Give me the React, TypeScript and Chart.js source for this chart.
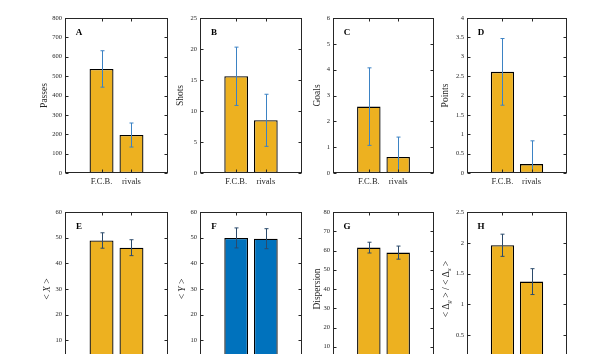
import { useEffect, useRef } from 'react';
import { Chart, registerables } from 'chart.js';

Chart.register(...registerables);

// ---------- data ----------
const categories = ['F.C.B.', 'rivals'];
const barPositions = [1, 2];

const passes = [537, 196];
const passesErr = [94, 62];
const shots = [15.6, 8.5];
const shotsErr = [4.7, 4.2];
const goals = [2.57, 0.62];
const goalsErr = [1.5, 0.77];
const points = [2.61, 0.23];
const pointsErr = [0.86, 0.6];
const meanX = [48.9, 46.1];
const meanXErr = [3.0, 3.1];
const meanY = [49.9, 49.6];
const meanYErr = [3.9, 3.9];
const dispersion = [61.5, 58.9];
const dispersionErr = [2.8, 3.4];
const deltaRatio = [1.96, 1.37];
const deltaRatioErr = [0.18, 0.21];

const panelLetters = ['A', 'B', 'C', 'D', 'E', 'F', 'G', 'H'];
const yLabels = ['Passes', 'Shots', 'Goals', 'Points', '< X >', '< Y >', 'Dispersion', '< Δ_g > / < Δ_s >'];
const yMax = [800, 25, 6, 4, 60, 60, 80, 2.5];
const yStep = [100, 5, 1, 0.5, 10, 10, 10, 0.5];
const seriesValues = [passes, shots, goals, points, meanX, meanY, dispersion, deltaRatio];
const seriesErrors = [passesErr, shotsErr, goalsErr, pointsErr, meanXErr, meanYErr, dispersionErr, deltaRatioErr];

// ---------- layout / style ----------
const W = 597;
const CH = 400;
const colLeft = [65, 200, 333, 467];
const colRight = [168, 302, 434, 567];
const rowTop = [18, 212];
const rowBottom = [173, 366];
const labelOffset = [21, 20, 16, 22, 18, 18, 16, 21];
const Y_AXIS_W = 40;
const X_AXIS_H = 20;
const ORANGE = '#EDB120';
const BLUE = '#0072BD';
const AXIS = '#262626';
const FONT = '"Liberation Serif", "Times New Roman", serif';

function drawRotatedLabel(ctx: CanvasRenderingContext2D, text: string, cx: number, cy: number, size: number) {
  const math = text.startsWith('<');
  const segs: { t: string; sub: boolean; w?: number }[] = [];
  for (let i = 0; i < text.length; i++) {
    const c = text[i];
    if (c === '_') {
      segs.push({ t: text[i + 1], sub: true });
      i++;
      continue;
    }
    segs.push({ t: c, sub: false });
  }
  const fontFor = (s: { t: string; sub: boolean }) => {
    const sz = s.sub ? size * 0.7 : size;
    const it = math && /[A-Za-z]/.test(s.t) ? 'italic ' : '';
    return `${it}${sz}px ${FONT}`;
  };
  let w = 0;
  segs.forEach((s) => {
    ctx.font = fontFor(s);
    s.w = ctx.measureText(s.t).width;
    w += s.w;
  });
  ctx.save();
  ctx.translate(cx, cy);
  ctx.rotate(-Math.PI / 2);
  ctx.fillStyle = AXIS;
  ctx.textAlign = 'left';
  ctx.textBaseline = 'middle';
  let x = -w / 2;
  segs.forEach((s) => {
    ctx.font = fontFor(s);
    ctx.fillText(s.t, x, s.sub ? size * 0.3 : 0);
    x += s.w || 0;
  });
  ctx.restore();
}

const panelPlugin = {
  id: 'panelDecor',
  afterDatasetsDraw(chart: any, _args: any, opts: any) {
    const { ctx, chartArea: a, scales } = chart;
    const xs = scales.x;
    const ys = scales.y;
    // error bars
    ctx.save();
    ctx.beginPath();
    ctx.rect(a.left, a.top, a.right - a.left, a.bottom - a.top);
    ctx.clip();
    ctx.strokeStyle = opts.errColor;
    ctx.lineWidth = 1;
    (opts.values as number[]).forEach((v, i) => {
      const x = Math.round(xs.getPixelForValue(barPositions[i])) + 0.5;
      const yTop = ys.getPixelForValue(v + opts.errors[i]);
      const yBot = ys.getPixelForValue(v - opts.errors[i]);
      ctx.beginPath();
      ctx.moveTo(x, yTop);
      ctx.lineTo(x, yBot);
      ctx.moveTo(x - 2, yTop);
      ctx.lineTo(x + 2, yTop);
      ctx.moveTo(x - 2, yBot);
      ctx.lineTo(x + 2, yBot);
      ctx.stroke();
    });
    ctx.restore();

    // frame and inward ticks
    ctx.save();
    ctx.strokeStyle = AXIS;
    ctx.lineWidth = 1;
    const L = Math.round(a.left) + 0.5;
    const R = Math.round(a.right) - 0.5;
    const T = Math.round(a.top) + 0.5;
    const B = Math.round(a.bottom) - 0.5;
    ctx.strokeRect(L, T, R - L, B - T);
    ctx.beginPath();
    ys.ticks.forEach((t: any) => {
      const y = Math.round(ys.getPixelForValue(t.value)) + 0.5;
      ctx.moveTo(L, y);
      ctx.lineTo(L + 3, y);
      ctx.moveTo(R, y);
      ctx.lineTo(R - 3, y);
    });
    barPositions.forEach((p) => {
      const x = Math.round(xs.getPixelForValue(p)) + 0.5;
      ctx.moveTo(x, T);
      ctx.lineTo(x, T + 3);
      ctx.moveTo(x, B);
      ctx.lineTo(x, B - 3);
    });
    ctx.stroke();
    ctx.restore();

    // panel letter
    ctx.save();
    ctx.fillStyle = '#000';
    ctx.font = `bold 9px ${FONT}`;
    ctx.textAlign = 'center';
    ctx.textBaseline = 'middle';
    ctx.fillText(opts.letter, a.left + 14, a.top + 15);
    ctx.restore();

    // y label
    drawRotatedLabel(ctx, opts.yLabel, a.left - opts.labelOffset, (a.top + a.bottom) / 2, 9.5);
  },
};

function Panel({ index }: { index: number }) {
  const ref = useRef<HTMLCanvasElement | null>(null);
  useEffect(() => {
    if (!ref.current) return;
    const col = index % 4;
    const row = Math.floor(index / 4);
    const plotLeft = colLeft[col];
    const plotRight = colRight[col];
    const plotTop = rowTop[row];
    const plotBottom = rowBottom[row];
    const values = seriesValues[index];
    const errors = seriesErrors[index];
    const barColor = index === 5 ? BLUE : ORANGE;
    const chart = new Chart(ref.current, {
      type: 'bar',
      data: {
        datasets: [
          {
            data: values.map((v, i) => ({ x: barPositions[i], y: v })),
            backgroundColor: barColor,
            borderColor: '#000',
            borderWidth: 1.3,
            borderSkipped: false,
            barPercentage: 0.8,
            categoryPercentage: 1,
          },
        ],
      },
      options: {
        animation: false,
        responsive: false,
        devicePixelRatio: 1,
        events: [],
        layout: {
          padding: {
            left: plotLeft - Y_AXIS_W,
            right: W - plotRight,
            top: plotTop,
            bottom: CH - plotBottom - X_AXIS_H,
          },
        },
        plugins: {
          legend: { display: false },
          tooltip: { enabled: false },
          title: { display: false },
          panelDecor: {
            values,
            errors,
            errColor: row === 0 ? '#3b82c4' : '#2b4a6b',
            letter: panelLetters[index],
            yLabel: yLabels[index],
            labelOffset: labelOffset[index],
          },
        } as any,
        scales: {
          x: {
            type: 'linear',
            min: -0.22,
            max: 3.22,
            offset: false,
            grid: { display: false, drawTicks: false },
            border: { display: false },
            afterBuildTicks: (s: any) => {
              s.ticks = barPositions.map((p) => ({ value: p }));
            },
            afterFit: (s: any) => {
              s.height = X_AXIS_H;
            },
            ticks: {
              autoSkip: false,
              maxRotation: 0,
              padding: 4,
              color: AXIS,
              font: { family: FONT, size: 8.5 },
              callback: (v: any) => {
                const i = barPositions.indexOf(Number(v));
                return i >= 0 ? categories[i] : '';
              },
            },
          },
          y: {
            type: 'linear',
            min: 0,
            max: yMax[index],
            grid: { display: false, drawTicks: false },
            border: { display: false },
            afterFit: (s: any) => {
              s.width = Y_AXIS_W;
            },
            ticks: {
              stepSize: yStep[index],
              padding: 3,
              color: AXIS,
              font: { family: FONT, size: 6.5 },
              callback: (v: any) => String(Math.round(Number(v) * 1000) / 1000),
            },
          },
        },
      },
      plugins: [panelPlugin],
    });
    return () => chart.destroy();
  }, [index]);
  return (
    <canvas
      ref={ref}
      width={W}
      height={CH}
      style={{ position: 'absolute', left: 0, top: 0, width: W, height: CH }}
    />
  );
}

export default function App() {
  return (
    <div
      style={{
        position: 'fixed',
        left: 0,
        top: 0,
        width: W,
        height: 354,
        overflow: 'hidden',
        background: '#fff',
      }}
    >
      {panelLetters.map((_, i) => (
        <Panel key={i} index={i} />
      ))}
    </div>
  );
}
